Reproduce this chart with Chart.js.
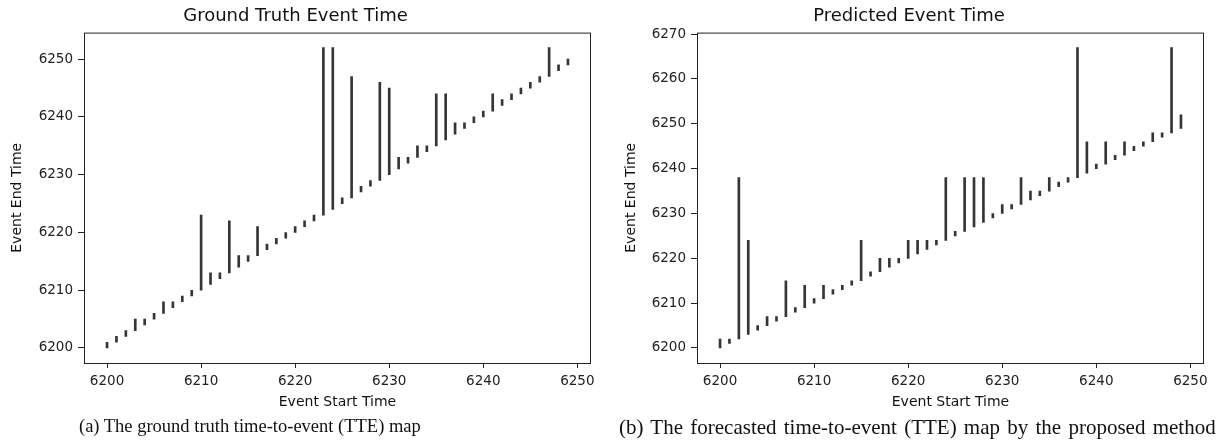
<!DOCTYPE html>
<html>
<head>
<meta charset="utf-8">
<script src="https://cdn.jsdelivr.net/npm/chart.js@4.4.0/dist/chart.umd.min.js"></script>
<style>
  body { margin: 0; background: #fff; width: 1228px; height: 443px; overflow: hidden; position: relative; }
  .panel { position: absolute; top: 0; width: 614px; height: 430px; }
  .caption { position: absolute; font-family: "Liberation Serif", "Times New Roman", serif; color: #111; white-space: nowrap; }
</style>
</head>
<body>
<div class="panel" style="left:0"><canvas id="gt"></canvas></div>
<div class="panel" style="left:614px"><canvas id="pred"></canvas></div>
<div class="caption" style="left:79px; top:416px; font-size:18.5px">(a) The ground truth time-to-event (TTE) map</div>
<div class="caption" style="left:619px; top:415px; font-size:21px; word-spacing:2px">(b) The forecasted time-to-event (TTE) map by the proposed method</div>
<script>
// event start times (x)
const startTimes = [];
for (let t = 6200; t <= 6249; t++) startTimes.push(t);

// end times
const gtEndTimes = [
  6201, 6202, 6203, 6205, 6205, 6206, 6208, 6208, 6209, 6210,
  6223, 6213, 6213, 6222, 6216, 6216, 6221, 6218, 6219, 6220,
  6221, 6222, 6223, 6252, 6252, 6226, 6247, 6228, 6229, 6246,
  6245, 6233, 6233, 6235, 6235, 6244, 6244, 6239, 6239, 6240,
  6241, 6244, 6243, 6244, 6245, 6246, 6247, 6252, 6249, 6250
];
const predEndTimes = [
  6202, 6202, 6238, 6224, 6205, 6207, 6207, 6215, 6209, 6214,
  6211, 6214, 6213, 6214, 6215, 6224, 6217, 6220, 6220, 6220,
  6224, 6224, 6224, 6224, 6238, 6226, 6238, 6238, 6238, 6230,
  6232, 6232, 6238, 6235, 6235, 6238, 6237, 6238, 6267, 6246,
  6241, 6246, 6243, 6246, 6245, 6246, 6248, 6248, 6267, 6252
];

const xTicks = [6200, 6210, 6220, 6230, 6240, 6250];
const gtYTicks = [6200, 6210, 6220, 6230, 6240, 6250];
const predYTicks = [6200, 6210, 6220, 6230, 6240, 6250, 6260, 6270];

const barColor = '#353535';
const font = 'DejaVu Sans';

// draws the full box around the plot area, like matplotlib spines
const frame = {
  id: 'frame',
  afterDraw(chart) {
    const a = chart.chartArea, c = chart.ctx;
    c.save();
    c.strokeStyle = '#222';
    c.lineWidth = 1;
    c.strokeRect(a.left + 0.5, a.top + 0.5, a.right - a.left - 1, a.bottom - a.top);
    c.restore();
  }
};

function makeChart(id, title, ends, yTicks, yMin, yMax, yWidth, padRight) {
  const data = startTimes.map((s, i) => ({ x: s, y: [s, ends[i]] }));
  return new Chart(document.getElementById(id), {
    type: 'bar',
    data: { datasets: [{ data, backgroundColor: barColor, barThickness: 2, grouped: false }] },
    options: {
      responsive: false,
      animation: false,
      layout: { padding: { left: 0, right: padRight, top: 0, bottom: 0 } },
      plugins: {
        legend: { display: false },
        tooltip: { enabled: false },
        title: { display: true, text: title, color: '#111', font: { family: font, size: 18, weight: 'normal' }, padding: { top: 6, bottom: 5 } }
      },
      scales: {
        x: {
          type: 'linear', min: 6197.55, max: 6251.45, offset: false,
          afterBuildTicks: s => { s.ticks = xTicks.map(v => ({ value: v })); },
          afterFit: s => { s.height = 67; },
          grid: { offset: false, drawOnChartArea: false, drawTicks: true, tickLength: 5, tickColor: '#222', color: '#222' },
          border: { display: false },
          ticks: { color: '#222', font: { family: font, size: 13.5 }, padding: 5, maxRotation: 0, callback: v => String(v) },
          title: { display: true, text: 'Event Start Time', color: '#111', font: { family: font, size: 14 }, padding: { top: 0, bottom: 19 } }
        },
        y: {
          type: 'linear', min: yMin, max: yMax,
          afterBuildTicks: s => { s.ticks = yTicks.map(v => ({ value: v })); },
          afterFit: s => { s.width = yWidth; },
          grid: { offset: false, drawOnChartArea: false, drawTicks: true, tickLength: 6, tickColor: '#222', color: '#222' },
          border: { display: false },
          ticks: { color: '#222', font: { family: font, size: 13.5 }, padding: 5, callback: v => String(v) },
          title: { display: true, text: 'Event End Time', color: '#111', font: { family: font, size: 14 }, padding: { top: 9, bottom: 0 } }
        }
      }
    },
    plugins: [frame]
  });
}

function sizeCanvas(id) {
  const c = document.getElementById(id);
  c.width = 614; c.height = 430;
  c.style.width = '614px'; c.style.height = '430px';
}
sizeCanvas('gt');
sizeCanvas('pred');

makeChart('gt', 'Ground Truth Event Time', gtEndTimes, gtYTicks, 6197.4, 6254.6, 84, 23);
makeChart('pred', 'Predicted Event Time', predEndTimes, predYTicks, 6196.65, 6270.35, 83, 24);
</script>
</body>
</html>
